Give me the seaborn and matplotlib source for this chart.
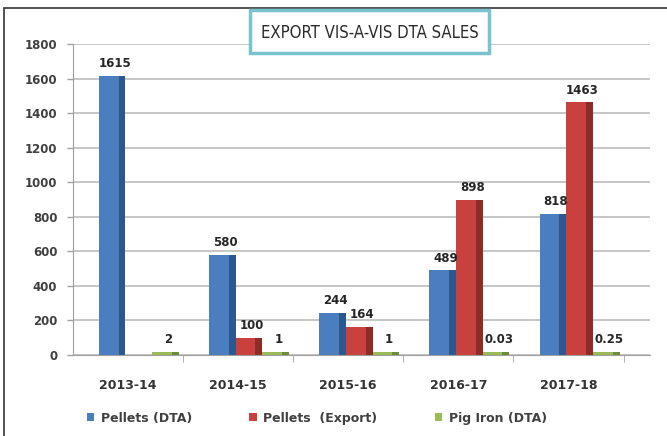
import numpy as np
import pandas as pd
import seaborn as sns
import matplotlib.pyplot as plt
from matplotlib.patches import Rectangle

years = ["2013-14", "2014-15", "2015-16", "2016-17", "2017-18"]
pellets_dta = [1615, 580, 244, 489, 818]
pellets_export = [0, 100, 164, 898, 1463]
pig_iron_dta = [2, 1, 1, 0.03, 0.25]

series_names = ["Pellets (DTA)", "Pellets  (Export)", "Pig Iron (DTA)"]
label_text = {
    "Pellets (DTA)": ["1615", "580", "244", "489", "818"],
    "Pellets  (Export)": ["", "100", "164", "898", "1463"],
    "Pig Iron (DTA)": ["2", "1", "1", "0.03", "0.25"],
}
colors = ["#4a7ebf", "#c8413e", "#9bbb59"]
side_colors = ["#2c578f", "#8c2b28", "#6f8c3a"]

df = pd.DataFrame({
    "year": years * 3,
    "series": np.repeat(series_names, len(years)),
    "value": pellets_dta + pellets_export + pig_iron_dta,
})

sns.set_style("white")
fig = plt.figure(figsize=(6.67, 4.36), dpi=100)
ax = fig.add_axes([0.109, 0.186, 0.865, 0.713])

sns.barplot(data=df, x="year", y="value", hue="series", palette=colors,
            width=0.727, saturation=1, ax=ax, legend=True, edgecolor="none")

bar_groups = [c for c in ax.containers if hasattr(c, "patches")]

# push the bars back a little, like the 3D depth in the original
for cont in bar_groups:
    for p in cont.patches:
        p.set_x(p.get_x() + 0.1)

# flat slab for the near-zero pig iron values
for p in bar_groups[2].patches:
    p.set_height(18)

# darker side face on each bar
for cont, sc in zip(bar_groups, side_colors):
    for p in cont.patches:
        if p.get_height() <= 0:
            continue
        w = p.get_width()
        ax.add_patch(Rectangle((p.get_x() + 0.74 * w, 0), 0.26 * w, p.get_height(),
                               facecolor=sc, edgecolor="none", zorder=p.get_zorder()))

ax.set_xlim(-0.5, 4.736)
ax.set_ylim(0, 1800)
ax.set_yticks(range(0, 1801, 200))
ax.set_xticks(np.arange(0.5, 4.6, 1), minor=True)
ax.yaxis.grid(True, color="#bcbcbc", linewidth=1.2)
ax.set_axisbelow(True)
for s in ["top", "right"]:
    ax.spines[s].set_visible(False)
ax.spines["left"].set_color("#a0a0a0")
ax.spines["bottom"].set_color("#a0a0a0")
ax.set_xlabel("")
ax.set_ylabel("")
ax.tick_params(axis="y", labelsize=8.5, colors="#404040", length=4, width=1, left=True, pad=7)
ax.tick_params(axis="y", color="#a0a0a0")
ax.tick_params(axis="x", which="major", labelsize=9, colors="#333333", pad=17, length=0)
ax.tick_params(axis="x", which="minor", length=5, color="#a0a0a0", bottom=True)
for t in ax.get_yticklabels() + ax.get_xticklabels():
    t.set_fontweight("bold")

for cont, name in zip(bar_groups, series_names):
    for p, txt in zip(cont.patches, label_text[name]):
        if not txt:
            continue
        ax.annotate(txt, (p.get_x() + p.get_width() / 2, p.get_height()),
                    xytext=(2, 4), textcoords="offset points", ha="center", va="bottom",
                    fontsize=8.5, fontweight="bold", color="#262626")

leg = ax.legend(loc="center left", bbox_to_anchor=(0.016, -0.203), ncol=3,
                frameon=False, fontsize=9, handlelength=0.6, handleheight=0.6,
                columnspacing=4.6, handletextpad=0.5, borderaxespad=0)
for t in leg.get_texts():
    t.set_fontweight("bold")
    t.set_color("#404040")

# outer border (only left and top show in the original)
fig.patches.append(Rectangle((0.006, -0.05), 1.2, 1.032, transform=fig.transFigure,
                             fill=False, edgecolor="#333333", linewidth=1.2))

# title box
fig.patches.append(Rectangle((250 / 667, 1 - 53 / 436), 239 / 667, 43 / 436,
                             transform=fig.transFigure, facecolor="white",
                             edgecolor="#79c3d0", linewidth=2.5, zorder=5))
fig.text(369.5 / 667, 1 - 33 / 436, "EXPORT VIS-A-VIS DTA SALES", ha="center", va="center",
         fontsize=12, family=["Liberation Sans Narrow", "DejaVu Sans"], fontstretch="condensed",
         color="#2a2a2a", zorder=6)

fig.savefig("out.png", dpi=100)
